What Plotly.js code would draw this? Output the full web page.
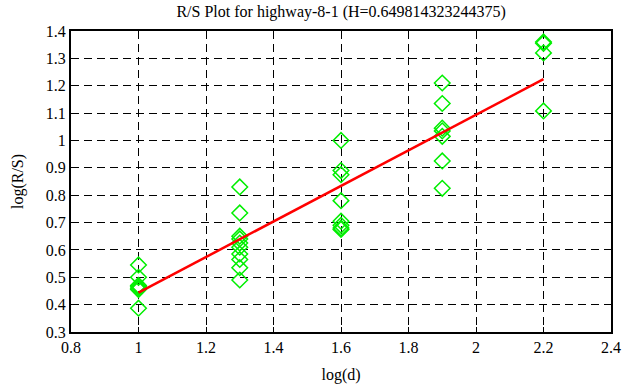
<!DOCTYPE html>
<html>
<head>
<meta charset="utf-8">
<script src="https://cdn.plot.ly/plotly-3.0.1.min.js"></script>
<style>html,body{margin:0;padding:0;background:#fff;}#chart{width:626px;height:387px;}</style>
</head>
<body>
<div id="chart"></div>
<script>
// Scatter points: log(d) and log(R/S)
const pointX = [
  1, 1, 1, 1, 1, 1, 1,
  1.3, 1.3, 1.3, 1.3, 1.3, 1.3, 1.3, 1.3, 1.3, 1.3,
  1.6, 1.6, 1.6, 1.6, 1.6, 1.6, 1.6, 1.6,
  1.9, 1.9, 1.9, 1.9, 1.9, 1.9, 1.9,
  2.2, 2.2, 2.2, 2.2
];
const pointY = [
  0.545, 0.5, 0.47, 0.465, 0.46, 0.455, 0.387,
  0.83, 0.735, 0.65, 0.64, 0.625, 0.61, 0.585, 0.565, 0.535, 0.49,
  1.0, 0.89, 0.875, 0.78, 0.705, 0.69, 0.68, 0.675,
  1.21, 1.135, 1.045, 1.035, 1.015, 0.925, 0.825,
  1.36, 1.355, 1.32, 1.108
];
// Fitted line
const fitX = [1, 2.2];
const fitY = [0.444, 1.224];

const xTicks = [0.8, 1, 1.2, 1.4, 1.6, 1.8, 2, 2.2, 2.4];
const xTickText = ['0.8', '1', '1.2', '1.4', '1.6', '1.8', '2', '2.2', '2.4'];
const yTicks = [0.3, 0.4, 0.5, 0.6, 0.7, 0.8, 0.9, 1, 1.1, 1.2, 1.3, 1.4];
const yTickText = ['0.3', '0.4', '0.5', '0.6', '0.7', '0.8', '0.9', '1', '1.1', '1.2', '1.3', '1.4'];

const font = {family: 'Liberation Serif, Times New Roman, serif', size: 16, color: '#000'};

const traces = [
  {
    x: pointX, y: pointY, type: 'scatter', mode: 'markers',
    marker: {symbol: 'diamond-open', size: 12, color: '#00ee00', line: {width: 1.5, color: '#00ee00'}},
    showlegend: false, hoverinfo: 'none'
  },
  {
    x: fitX, y: fitY, type: 'scatter', mode: 'lines',
    line: {color: '#ff0000', width: 2.5},
    showlegend: false, hoverinfo: 'none'
  }
];

const axisCommon = {
  showgrid: true, gridcolor: '#000', gridwidth: 1, griddash: '8px,5px',
  showline: true, linecolor: '#000', linewidth: 2, mirror: true,
  zeroline: false, ticks: 'inside', ticklen: 5, tickcolor: '#000',
  tickfont: font
};

const layout = {
  width: 626, height: 387,
  margin: {l: 71, r: 15, t: 31, b: 55},
  paper_bgcolor: '#fff', plot_bgcolor: '#fff',
  font: font,
  title: {text: 'R/S Plot for highway-8-1 (H=0.649814323244375)', font: font, x: 0.545, xanchor: 'center', y: 0.985, yanchor: 'top'},
  xaxis: Object.assign({}, axisCommon, {
    range: [0.8, 2.4], tickvals: xTicks, ticktext: xTickText,
    title: {text: 'log(d)', font: font, standoff: 14}
  }),
  yaxis: Object.assign({}, axisCommon, {
    range: [0.3, 1.4], tickvals: yTicks, ticktext: yTickText,
    title: {text: 'log(R/S)', font: font, standoff: 18}
  })
};

Plotly.newPlot('chart', traces, layout, {staticPlot: true, displayModeBar: false});
</script>
</body>
</html>
